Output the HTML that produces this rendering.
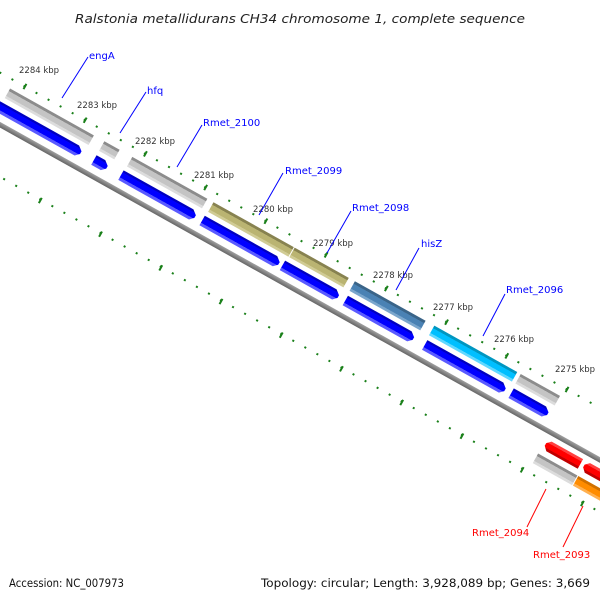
<!DOCTYPE html>
<html><head><meta charset="utf-8"><style>
html,body{margin:0;padding:0;background:#fff;}
svg{display:block;}
</style></head><body>
<svg width="600" height="600" viewBox="0 0 600 600" xmlns="http://www.w3.org/2000/svg">
<defs>
<linearGradient id="gU" gradientUnits="userSpaceOnUse" x1="0" y1="-35" x2="0" y2="-24">
<stop offset="0" stop-color="#8c8c8c"/><stop offset="0.25" stop-color="#8c8c8c"/><stop offset="0.26" stop-color="#c4c4c4"/><stop offset="0.75" stop-color="#c4c4c4"/><stop offset="0.76" stop-color="#dcdcdc"/><stop offset="1" stop-color="#dcdcdc"/></linearGradient>
<linearGradient id="kU" gradientUnits="userSpaceOnUse" x1="0" y1="-35" x2="0" y2="-24">
<stop offset="0" stop-color="#878250"/><stop offset="0.25" stop-color="#878250"/><stop offset="0.26" stop-color="#bab472"/><stop offset="0.75" stop-color="#bab472"/><stop offset="0.76" stop-color="#d0cb94"/><stop offset="1" stop-color="#d0cb94"/></linearGradient>
<linearGradient id="sU" gradientUnits="userSpaceOnUse" x1="0" y1="-35" x2="0" y2="-24">
<stop offset="0" stop-color="#3a6488"/><stop offset="0.25" stop-color="#3a6488"/><stop offset="0.26" stop-color="#4a82b4"/><stop offset="0.75" stop-color="#4a82b4"/><stop offset="0.76" stop-color="#7aa6cc"/><stop offset="1" stop-color="#7aa6cc"/></linearGradient>
<linearGradient id="cU" gradientUnits="userSpaceOnUse" x1="0" y1="-35" x2="0" y2="-24">
<stop offset="0" stop-color="#0096c0"/><stop offset="0.25" stop-color="#0096c0"/><stop offset="0.26" stop-color="#00bfff"/><stop offset="0.75" stop-color="#00bfff"/><stop offset="0.76" stop-color="#60d8ff"/><stop offset="1" stop-color="#60d8ff"/></linearGradient>
<linearGradient id="bU" gradientUnits="userSpaceOnUse" x1="0" y1="-19" x2="0" y2="-8">
<stop offset="0" stop-color="#0000c0"/><stop offset="0.2" stop-color="#0000c0"/><stop offset="0.21" stop-color="#0000ff"/><stop offset="0.72" stop-color="#0000ff"/><stop offset="0.73" stop-color="#5a5aff"/><stop offset="1" stop-color="#5a5aff"/></linearGradient>
<linearGradient id="rL" gradientUnits="userSpaceOnUse" x1="0" y1="9" x2="0" y2="20">
<stop offset="0" stop-color="#ff4040"/><stop offset="0.25" stop-color="#ff4040"/><stop offset="0.26" stop-color="#ff0000"/><stop offset="0.75" stop-color="#ff0000"/><stop offset="0.76" stop-color="#c00000"/><stop offset="1" stop-color="#c00000"/></linearGradient>
<linearGradient id="gL" gradientUnits="userSpaceOnUse" x1="0" y1="26" x2="0" y2="37">
<stop offset="0" stop-color="#8c8c8c"/><stop offset="0.25" stop-color="#8c8c8c"/><stop offset="0.26" stop-color="#c4c4c4"/><stop offset="0.75" stop-color="#c4c4c4"/><stop offset="0.76" stop-color="#dcdcdc"/><stop offset="1" stop-color="#dcdcdc"/></linearGradient>
<linearGradient id="oL" gradientUnits="userSpaceOnUse" x1="0" y1="26" x2="0" y2="37">
<stop offset="0" stop-color="#d07000"/><stop offset="0.25" stop-color="#d07000"/><stop offset="0.26" stop-color="#ff8c00"/><stop offset="0.75" stop-color="#ff8c00"/><stop offset="0.76" stop-color="#ffb050"/><stop offset="1" stop-color="#ffb050"/></linearGradient>
<linearGradient id="bb" gradientUnits="userSpaceOnUse" x1="0" y1="-1" x2="0" y2="4">
<stop offset="0" stop-color="#a0a0a0"/><stop offset="1" stop-color="#666"/></linearGradient>
</defs>

<text x="300" y="23" text-anchor="middle" font-family="DejaVu Sans, sans-serif" font-style="italic" font-size="12.5" fill="#222" textLength="450" lengthAdjust="spacingAndGlyphs">Ralstonia metallidurans CH34 chromosome 1, complete sequence</text>

<g transform="translate(0,123) rotate(29.2)">
  <!-- tick rows -->
  <line x1="-204.6" y1="-44" x2="900" y2="-44" stroke="#1a801a" stroke-width="2" stroke-dasharray="2 11.8"/>
  <line x1="-204" y1="-44" x2="900" y2="-44" stroke="#1a801a" stroke-width="6" stroke-dasharray="2 67"/>
  <line x1="-204.6" y1="47" x2="900" y2="47" stroke="#1a801a" stroke-width="2" stroke-dasharray="2 11.8"/>
  <line x1="-204" y1="48" x2="900" y2="48" stroke="#1a801a" stroke-width="6" stroke-dasharray="2 67"/>
  <!-- backbone -->
  <rect x="-100" y="-1" width="900" height="5" fill="url(#bb)"/>
  <!-- upper bars -->
  <rect x="-8" y="-35" width="96" height="11" fill="url(#gU)"/>
  <rect x="100" y="-35" width="17.5" height="11" fill="url(#gU)"/>
  <rect x="132" y="-35" width="86" height="11" fill="url(#gU)"/>
  <rect x="225" y="-35" width="92" height="11" fill="url(#kU)"/>
  <rect x="318" y="-35" width="62" height="11" fill="url(#kU)"/>
  <rect x="387" y="-35" width="81" height="11" fill="url(#sU)"/>
  <rect x="478" y="-35" width="95" height="11" fill="url(#cU)"/>
  <rect x="577" y="-35" width="45" height="11" fill="url(#gU)"/>
  <!-- blue arrows -->
  <g fill="url(#bU)">
    <polygon points="-40,-19 80,-19 85,-15 85,-12 81,-8 -40,-8"/>
    <polygon points="100,-19 110,-19 115,-15 115,-12 111,-8 100,-8"/>
    <polygon points="131,-19 211,-19 216,-15 216,-12 212,-8 131,-8"/>
    <polygon points="224,-19 307,-19 312,-15 312,-12 308,-8 224,-8"/>
    <polygon points="316,-19 375,-19 380,-15 380,-12 376,-8 316,-8"/>
    <polygon points="388,-19 461,-19 466,-15 466,-12 462,-8 388,-8"/>
    <polygon points="479,-19 566,-19 571,-15 571,-12 567,-8 479,-8"/>
    <polygon points="578,-19 615,-19 620,-15 620,-12 616,-8 578,-8"/>
  </g>
  <!-- lower strand -->
  <polygon points="637,9 673,9 673,20 637,20 633,16 633,13" fill="url(#rL)"/>
  <polygon points="681,9 800,9 800,20 681,20 677,16 677,13" fill="url(#rL)"/>
  <rect x="631" y="26" width="45" height="11" fill="url(#gL)"/>
  <rect x="677" y="26" width="120" height="11" fill="url(#oL)"/>
</g>

<!-- kbp labels -->
<g font-family="DejaVu Sans, sans-serif" font-size="8.5" fill="#333">
<text x="19" y="73">2284 kbp</text>
<text x="77" y="108">2283 kbp</text>
<text x="135" y="144">2282 kbp</text>
<text x="194" y="178">2281 kbp</text>
<text x="253" y="212">2280 kbp</text>
<text x="313" y="246">2279 kbp</text>
<text x="373" y="278">2278 kbp</text>
<text x="433" y="310">2277 kbp</text>
<text x="494" y="342">2276 kbp</text>
<text x="555" y="372">2275 kbp</text>
</g>

<!-- gene labels -->
<g stroke="#0000ff" stroke-width="1">
<line x1="88" y1="57" x2="62" y2="98"/>
<line x1="146" y1="92" x2="120" y2="133"/>
<line x1="202" y1="125" x2="177" y2="167"/>
<line x1="283" y1="173" x2="259" y2="215"/>
<line x1="351" y1="211" x2="327" y2="253"/>
<line x1="419" y1="248" x2="396" y2="290"/>
<line x1="505" y1="294" x2="483" y2="336"/>
</g>
<g stroke="#ff0000" stroke-width="1">
<line x1="546" y1="489" x2="527" y2="527"/>
<line x1="583" y1="506" x2="563" y2="547"/>
</g>
<g font-family="DejaVu Sans, sans-serif" font-size="10">
<text x="89" y="59" fill="#0000ff">engA</text>
<text x="147" y="94" fill="#0000ff">hfq</text>
<text x="203" y="126" fill="#0000ff">Rmet_2100</text>
<text x="285" y="174" fill="#0000ff">Rmet_2099</text>
<text x="352" y="211" fill="#0000ff">Rmet_2098</text>
<text x="421" y="247" fill="#0000ff">hisZ</text>
<text x="506" y="293" fill="#0000ff">Rmet_2096</text>
<text x="472" y="536" fill="#ff0000">Rmet_2094</text>
<text x="533" y="558" fill="#ff0000">Rmet_2093</text>
</g>

<g font-family="DejaVu Sans, sans-serif" font-size="11.5" fill="#111">
<text x="9" y="587" textLength="115" lengthAdjust="spacingAndGlyphs">Accession: NC_007973</text>
<text x="261" y="587" textLength="329" lengthAdjust="spacingAndGlyphs">Topology: circular; Length: 3,928,089 bp; Genes: 3,669</text>
</g>
</svg>
</body></html>
